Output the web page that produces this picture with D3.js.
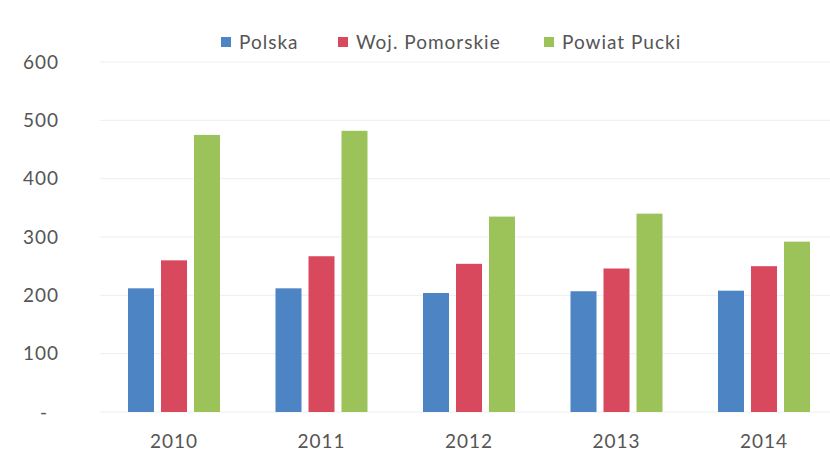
<!DOCTYPE html>
<html>
<head>
<meta charset="utf-8">
<script src="https://cdn.jsdelivr.net/npm/d3@7"></script>
<style>
  body { margin: 0; background: #fff; }
  text { font-family: Lato, "Open Sans", sans-serif; fill: #555; font-size: 19px; letter-spacing: 1px; }
</style>
</head>
<body>
<div class="chart"></div>
<script>
// values
const years = ["2010", "2011", "2012", "2013", "2014"];
const seriesNames = ["Polska", "Woj. Pomorskie", "Powiat Pucki"];
const polska = [212, 212, 204, 207, 208];
const pomorskie = [260, 267, 254, 246, 250];
const pucki = [475, 482, 335, 340, 292];
const yTicks = [0, 100, 200, 300, 400, 500, 600];
const colors = ["#4d84c3", "#d9495d", "#9cc35a"];

const seriesValues = [polska, pomorskie, pucki];
const width = 830, height = 452;

const svg = d3.select(".chart").append("svg")
  .attr("width", width)
  .attr("height", height);

const y = d3.scaleLinear().domain([0, 600]).range([412, 62]);
const x = d3.scalePoint().domain(years).range([174, 764]);
const inner = d3.scaleBand().domain(seriesNames).range([-46, 46]).paddingInner(0.212);

// faint gridlines
svg.append("g")
  .selectAll("line")
  .data(yTicks)
  .join("line")
  .attr("x1", 100)
  .attr("x2", 830)
  .attr("y1", d => y(d))
  .attr("y2", d => y(d))
  .attr("stroke", "#eeeeee")
  .attr("stroke-width", 1);

// y labels
svg.append("g")
  .selectAll("text")
  .data(yTicks)
  .join("text")
  .attr("x", d => d === 0 ? 48 : 59)
  .attr("y", d => y(d))
  .attr("dy", "0.35em")
  .attr("text-anchor", "end")
  .text(d => d === 0 ? "-" : d);

// bars
seriesNames.forEach(function(name, s) {
  svg.append("g")
    .attr("fill", colors[s])
    .selectAll("rect")
    .data(seriesValues[s])
    .join("rect")
    .attr("x", (d, i) => x(years[i]) + inner(name))
    .attr("width", inner.bandwidth())
    .attr("y", d => y(d))
    .attr("height", d => y(0) - y(d));
});

// x labels
svg.append("g")
  .selectAll("text")
  .data(years)
  .join("text")
  .attr("x", d => x(d))
  .attr("y", 448)
  .attr("text-anchor", "middle")
  .text(d => d);

// legend
const legendX = [221, 338, 544];
const legend = svg.append("g");
seriesNames.forEach(function(name, s) {
  legend.append("rect")
    .attr("x", legendX[s])
    .attr("y", 37)
    .attr("width", 10)
    .attr("height", 10)
    .attr("fill", colors[s]);
  legend.append("text")
    .attr("x", legendX[s] + 18)
    .attr("y", 42)
    .attr("dy", "0.35em")
    .text(name);
});
</script>
</body>
</html>
